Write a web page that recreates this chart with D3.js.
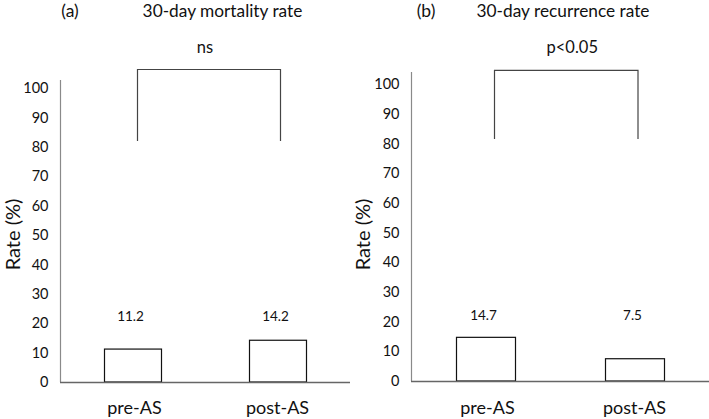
<!DOCTYPE html>
<html><head><meta charset="utf-8">
<script src="https://cdnjs.cloudflare.com/ajax/libs/d3/7.8.5/d3.min.js"></script>
<style>body{margin:0;background:#fff}svg{display:block;font-family:Lato,"Open Sans",sans-serif}</style>
</head><body><svg id="c" width="709" height="419"></svg>
<script>
const categories = ["pre-AS", "post-AS"];
const panelLetters = ["(a)", "(b)"];
const panelTitles = ["30-day mortality rate", "30-day recurrence rate"];
const mortalityValues = [11.2, 14.2];
const recurrenceValues = [14.7, 7.5];
const significance = ["ns", "p<0.05"];
const yTicks = [0, 10, 20, 30, 40, 50, 60, 70, 80, 90, 100];
const yLabel = "Rate (%)";
const bracketTop = [106.3, 104.6];
const bracketBottom = [82, 81.5];

const panels = [
  {values: mortalityValues, x0: 60, x1: 350, yBase: 382, yTop100: 88, axisTop: 102.7, labelX: 19.5, letterX: 70, titleX: 222.5, barW: 57, bOff: [5, 3], sigDx: -4},
  {values: recurrenceValues, x0: 411, x1: 709, yBase: 381, yTop100: 84, axisTop: 104, labelX: 370, letterX: 426, titleX: 563, barW: 59, bOff: [9, 3.5], sigDx: 6}
];

const svg = d3.select("#c");

panels.forEach((p, i) => {
  const g = svg.append("g");
  const y = d3.scaleLinear().domain([0, 100]).range([p.yBase, p.yTop100]);
  const x = d3.scalePoint().domain(categories).range([p.x0, p.x1]).padding(0.5);

  // y axis
  const ya = g.append("g").attr("transform", `translate(${p.x0 + 0.5},0)`)
    .call(d3.axisLeft(y).tickValues(yTicks).tickSize(0).tickPadding(12));
  ya.select(".domain").remove();
  ya.selectAll("text").attr("font-size", 14.5).attr("fill", "#111").attr("font-family", "Lato, sans-serif");
  g.append("line").attr("x1", p.x0 + 0.5).attr("x2", p.x0 + 0.5)
    .attr("y1", y(0)).attr("y2", y(p.axisTop)).attr("stroke", "#8a8a8a").attr("stroke-width", 1.2);

  // bars
  g.selectAll("rect.bar").data(p.values).join("rect").attr("class", "bar")
    .attr("x", (d, j) => Math.round(x(categories[j]) - p.barW / 2) + 0.5)
    .attr("width", p.barW)
    .attr("y", d => y(d))
    .attr("height", d => y(0) - y(d))
    .attr("fill", "#fff").attr("stroke", "#111").attr("stroke-width", 1.2);

  // x axis baseline
  g.append("line").attr("x1", p.x0).attr("x2", p.x1)
    .attr("y1", y(0) + 0.5).attr("y2", y(0) + 0.5).attr("stroke", "#666").attr("stroke-width", 1.3);

  // value labels
  g.selectAll("text.val").data(p.values).join("text").attr("class", "val")
    .attr("x", (d, j) => x(categories[j]) - 2)
    .attr("y", y(0) - 61)
    .attr("text-anchor", "middle").attr("font-size", 13.5).attr("fill", "#111")
    .text(d => d.toFixed(1));

  // category labels
  g.selectAll("text.cat").data(categories).join("text").attr("class", "cat")
    .attr("x", (d, j) => x(d) + (j === 0 ? 2 : 0)).attr("y", 414)
    .attr("text-anchor", "middle").attr("font-size", 18).attr("fill", "#111")
    .text(d => d);

  // y label
  g.append("text").attr("transform", `translate(${p.labelX},234.5) rotate(-90)`)
    .attr("text-anchor", "middle").attr("font-size", 20).attr("fill", "#111").text(yLabel);

  // bracket
  const bx1 = x(categories[0]) + p.bOff[0], bx2 = x(categories[1]) + p.bOff[1];
  const bt = y(bracketTop[i]), bb = y(bracketBottom[i]);
  g.append("path").attr("d", `M${bx1},${bb}V${bt}H${bx2}V${bb}`)
    .attr("fill", "none").attr("stroke", "#444").attr("stroke-width", 1.2);
  g.append("text").attr("x", (bx1 + bx2) / 2 + p.sigDx).attr("y", 53)
    .attr("text-anchor", "middle").attr("font-size", 16.5).attr("fill", "#111").text(significance[i]);

  // titles
  g.append("text").attr("x", p.letterX).attr("y", 16.5).attr("text-anchor", "middle")
    .attr("font-size", 17.5).attr("fill", "#111").text(panelLetters[i]);
  g.append("text").attr("x", p.titleX).attr("y", 16.5).attr("text-anchor", "middle")
    .attr("font-size", 17.3).attr("fill", "#111").text(panelTitles[i]);
});
</script></body></html>
